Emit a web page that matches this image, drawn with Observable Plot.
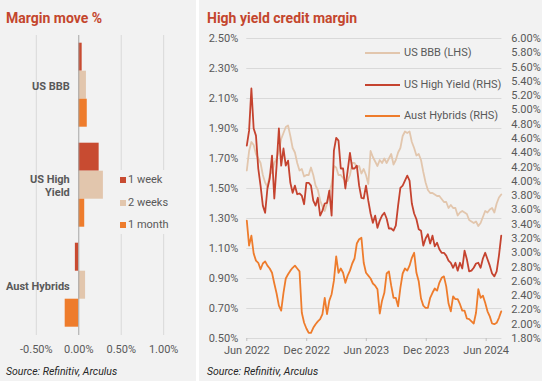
<!DOCTYPE html>
<html><head><meta charset="utf-8">
<script src="https://cdn.jsdelivr.net/npm/d3@7"></script>
<script src="https://cdn.jsdelivr.net/npm/@observablehq/plot@0.6"></script>
<style>
body{margin:0;background:#f2f2f2;font-family:Roboto,sans-serif;}
#root{position:relative;width:542px;height:381px;overflow:hidden;background:#f2f2f2;}
.abs{position:absolute;}
.title{font-weight:700;font-size:14px;color:#c4462d;line-height:16px;white-space:nowrap;}
.src{font-style:italic;font-size:10.5px;color:#262626;line-height:12px;white-space:nowrap;}
.leg{font-size:11px;color:#595959;line-height:12px;white-space:nowrap;}
svg{overflow:visible;}
</style></head>
<body><div id="root">
<div class="abs" style="left:196px;top:0;width:3px;height:381px;background:#fff"></div>
<div id="left" class="abs" style="left:0;top:0"></div>
<div id="right" class="abs" style="left:199px;top:0"></div>
<div class="abs title" style="left:6px;top:10px">Margin move %</div>
<div class="abs title" style="left:207px;top:10px">High yield credit margin</div>
<div class="abs src" style="left:6px;top:366px">Source: Refinitiv, Arculus</div>
<div class="abs src" style="left:207px;top:366px">Source: Refinitiv, Arculus</div>
<div id="legL" class="abs" style="left:116px;top:170px;width:58px;height:64px;background:#f2f2f2"></div>
<div id="legR" class="abs" style="left:0;top:0"></div>
</div>
<script>
// ---------- Left panel data ----------
const categories = ["US BBB", "US High Yield", "Aust Hybrids"];
const categoryLabels = ["US BBB", "US High\nYield", "Aust Hybrids"];
const periods = ["1 week", "2 weeks", "1 month"];
const move1Week = [0.04, 0.24, -0.04];
const move2Weeks = [0.09, 0.29, 0.08];
const move1Month = [0.10, 0.07, -0.16];
const moveTicks = [-0.5, 0, 0.5, 1.0];
const periodColors = ["#c84b31", "#e2c6ad", "#ee7c2c"];

// ---------- Right panel data ----------
const seriesNames = ["US BBB (LHS)", "US High Yield (RHS)", "Aust Hybrids (RHS)"];
const seriesColors = ["#e2c6ad", "#c5432f", "#ee7c2c"];
const lhsTicks = [0.5, 0.7, 0.9, 1.1, 1.3, 1.5, 1.7, 1.9, 2.1, 2.3, 2.5];
const rhsTicks = [1.8, 2.0, 2.2, 2.4, 2.6, 2.8, 3.0, 3.2, 3.4, 3.6, 3.8, 4.0, 4.2, 4.4, 4.6, 4.8, 5.0, 5.2, 5.4, 5.6, 5.8, 6.0];
const dateTicks = ["2022-06-01", "2022-12-01", "2023-06-01", "2023-12-01", "2024-06-01"];
const startDate = "2022-06-01";
const endDate = "2024-07-19";
// weekly observations starting 1 Jun 2022
const usBBB = [1.62,1.75,1.81,1.79,1.73,1.70,1.67,1.59,1.54,1.51,
1.59,1.61,1.67,1.70,1.75,1.83,1.87,1.91,1.92,1.85,
1.77,1.74,1.67,1.62,1.63,1.58,1.59,1.59,1.64,1.59,
1.52,1.49,1.42,1.38,1.35,1.40,1.47,1.53,1.65,1.64,
1.59,1.59,1.57,1.55,1.55,1.59,1.67,1.67,1.64,1.65,
1.60,1.63,1.59,1.53,1.75,1.71,1.68,1.65,1.69,1.67,
1.70,1.67,1.70,1.73,1.66,1.69,1.74,1.77,1.85,1.88,
1.87,1.88,1.81,1.77,1.72,1.73,1.69,1.61,1.54,1.49,
1.47,1.47,1.46,1.45,1.45,1.43,1.41,1.41,1.37,1.39,
1.37,1.37,1.32,1.34,1.35,1.34,1.33,1.29,1.28,1.27,
1.28,1.25,1.27,1.31,1.35,1.34,1.36,1.37,1.34,1.40,
1.44,1.46];
const usHighYield = [4.50,4.71,5.30,4.74,4.64,4.18,3.94,3.66,3.56,3.90,
4.04,4.36,3.76,4.22,4.74,4.22,4.46,4.22,4.29,3.98,
3.84,3.94,3.82,3.83,3.80,3.68,3.98,3.98,3.94,3.73,
3.66,3.77,3.52,3.59,3.69,3.70,3.87,3.52,4.43,4.61,
4.57,4.18,4.18,3.90,4.15,4.40,4.18,4.18,4.22,3.94,
3.77,3.76,3.94,3.73,3.55,3.42,3.52,3.35,3.45,3.52,
3.56,3.48,3.34,3.34,3.31,3.38,3.66,3.91,3.94,4.01,
4.08,4.01,3.69,3.55,3.47,3.33,3.31,3.10,3.20,3.26,
3.13,3.24,3.09,3.14,3.05,3.00,3.00,2.96,2.89,2.86,
2.79,2.86,2.75,2.86,2.78,3.03,2.91,2.74,2.75,2.79,
2.85,2.86,2.79,2.92,3.00,2.91,2.82,2.71,2.67,2.74,
2.96,3.24];
const austHybrids = [3.45,3.10,3.24,2.99,2.89,2.86,2.77,2.85,2.88,2.82,
2.78,2.72,2.57,2.43,2.26,2.19,2.44,2.64,2.70,2.75,
2.79,2.82,2.78,2.74,2.16,2.02,1.94,1.88,1.88,1.95,
2.00,2.04,2.07,2.14,2.37,2.14,2.33,2.42,2.61,2.95,
2.72,2.78,2.72,2.58,2.68,2.75,2.85,2.92,3.13,3.19,
3.21,2.86,2.72,2.68,2.64,2.57,2.54,2.49,2.15,2.33,
2.44,2.71,2.74,2.54,2.37,2.37,2.25,2.51,2.71,2.78,
2.75,2.82,2.93,3.00,2.72,2.60,2.36,2.26,2.23,2.23,
2.37,2.44,2.50,2.47,2.58,2.65,2.67,2.53,2.29,2.18,
2.39,2.35,2.35,2.28,2.19,2.19,2.08,2.07,2.04,2.01,
2.16,2.49,2.37,2.40,2.30,2.18,2.11,2.01,2.00,2.02,
2.09,2.18];

const pct = v => (v < -1e-9 ? "-" : "") + Math.abs(v).toFixed(2) + "%";
const FONT = "Roboto, sans-serif";

// ---------- Left chart ----------
const moves = [];
categories.forEach((c, i) => {
  [move1Week, move2Weeks, move1Month].forEach((arr, j) => moves.push({category: c, period: periods[j], value: arr[i]}));
});
const left = Plot.plot({
  width: 197, height: 365,
  marginLeft: 14.6, marginRight: 12.6, marginTop: 34.3, marginBottom: 28.3,
  style: {background: "transparent", fontFamily: FONT, fontSize: "11px", color: "#595959", overflow: "visible"},
  x: {domain: [-0.75, 1.25]},
  y: {domain: periods, axis: null, paddingInner: 0, paddingOuter: 0.236},
  fy: {domain: categories, axis: null, padding: 0},
  color: {domain: periods, range: periodColors},
  marks: [
    Plot.gridX(moveTicks.filter(t => t !== 0), {stroke: "#d9d9d9", strokeOpacity: 1}),
    Plot.axisX({ticks: moveTicks, tickFormat: pct, tickSize: 0, tickPadding: 10, label: null}),
    Plot.barX(moves, {x: "value", y: "period", fy: "category", fill: "period"}),
    Plot.ruleX([0], {stroke: "#a6a6a6"}),
    Plot.text(categories, {fy: d => d, x: 0, dx: -9, text: (d, i) => categoryLabels[i], textAnchor: "end", lineAnchor: "middle", frameAnchor: "middle", fontWeight: 700, lineHeight: 1.15, fill: "#595959"})
  ]
});
document.getElementById("left").appendChild(left);

// left legend
const legL = document.getElementById("legL");
periods.forEach((p, i) => {
  const cy = [180, 202.5, 225][i] - 170;
  legL.insertAdjacentHTML("beforeend",
    `<div class="abs" style="left:4px;top:${cy - 3}px;width:6px;height:6px;background:${periodColors[i]}"></div>` +
    `<div class="abs leg" style="left:12px;top:${cy - 6}px">${p}</div>`);
});

// ---------- Right chart ----------
const toL = r => 0.5 + (r - 1.8) * (2.0 / 4.2);
const toR = l => 1.8 + (l - 0.5) * (4.2 / 2.0);
const weeks = usBBB.map((_, i) => new Date(Date.UTC(2022, 5, 1 + 7 * i)));
const lines = [];
weeks.forEach((d, i) => {
  lines.push({date: d, series: seriesNames[0], value: usBBB[i]});
  lines.push({date: d, series: seriesNames[1], value: toL(usHighYield[i])});
  lines.push({date: d, series: seriesNames[2], value: toL(austHybrids[i])});
});
const right = Plot.plot({
  width: 343, height: 365,
  marginLeft: 47.3, marginRight: 40.6, marginTop: 38, marginBottom: 27,
  style: {background: "transparent", fontFamily: FONT, fontSize: "11px", color: "#595959", overflow: "visible"},
  x: {type: "utc", domain: [new Date(startDate), new Date(endDate)]},
  y: {domain: [0.5, 2.5]},
  color: {domain: seriesNames, range: seriesColors},
  marks: [
    Plot.gridY(lhsTicks, {stroke: "#d9d9d9", strokeOpacity: 1}),
    Plot.axisY({ticks: lhsTicks, tickFormat: pct, tickSize: 0, tickPadding: 8.6, label: null}),
    Plot.axisY({anchor: "right", ticks: rhsTicks.map(toL), tickFormat: d => pct(toR(d)), tickSize: 0, tickPadding: 9.3, label: null}),
    Plot.axisX({ticks: dateTicks.map(d => new Date(d)), tickFormat: d3.utcFormat("%b %Y"), tickSize: 3, tickPadding: 5, stroke: "#bfbfbf", label: null}),
    Plot.lineY(lines, {x: "date", y: "value", z: "series", stroke: "series", strokeWidth: 1.8, curve: "linear"})
  ]
});
document.getElementById("right").appendChild(right);

// right legend
const legR = document.getElementById("legR");
seriesNames.forEach((s, i) => {
  const cy = [53.3, 85, 115.7][i];
  legR.insertAdjacentHTML("beforeend",
    `<div class="abs" style="left:365px;top:${cy - 1}px;width:35px;height:2px;background:${seriesColors[i]}"></div>` +
    `<div class="abs leg" style="left:404px;top:${cy - 6}px">${s}</div>`);
});
</script>
</body></html>
